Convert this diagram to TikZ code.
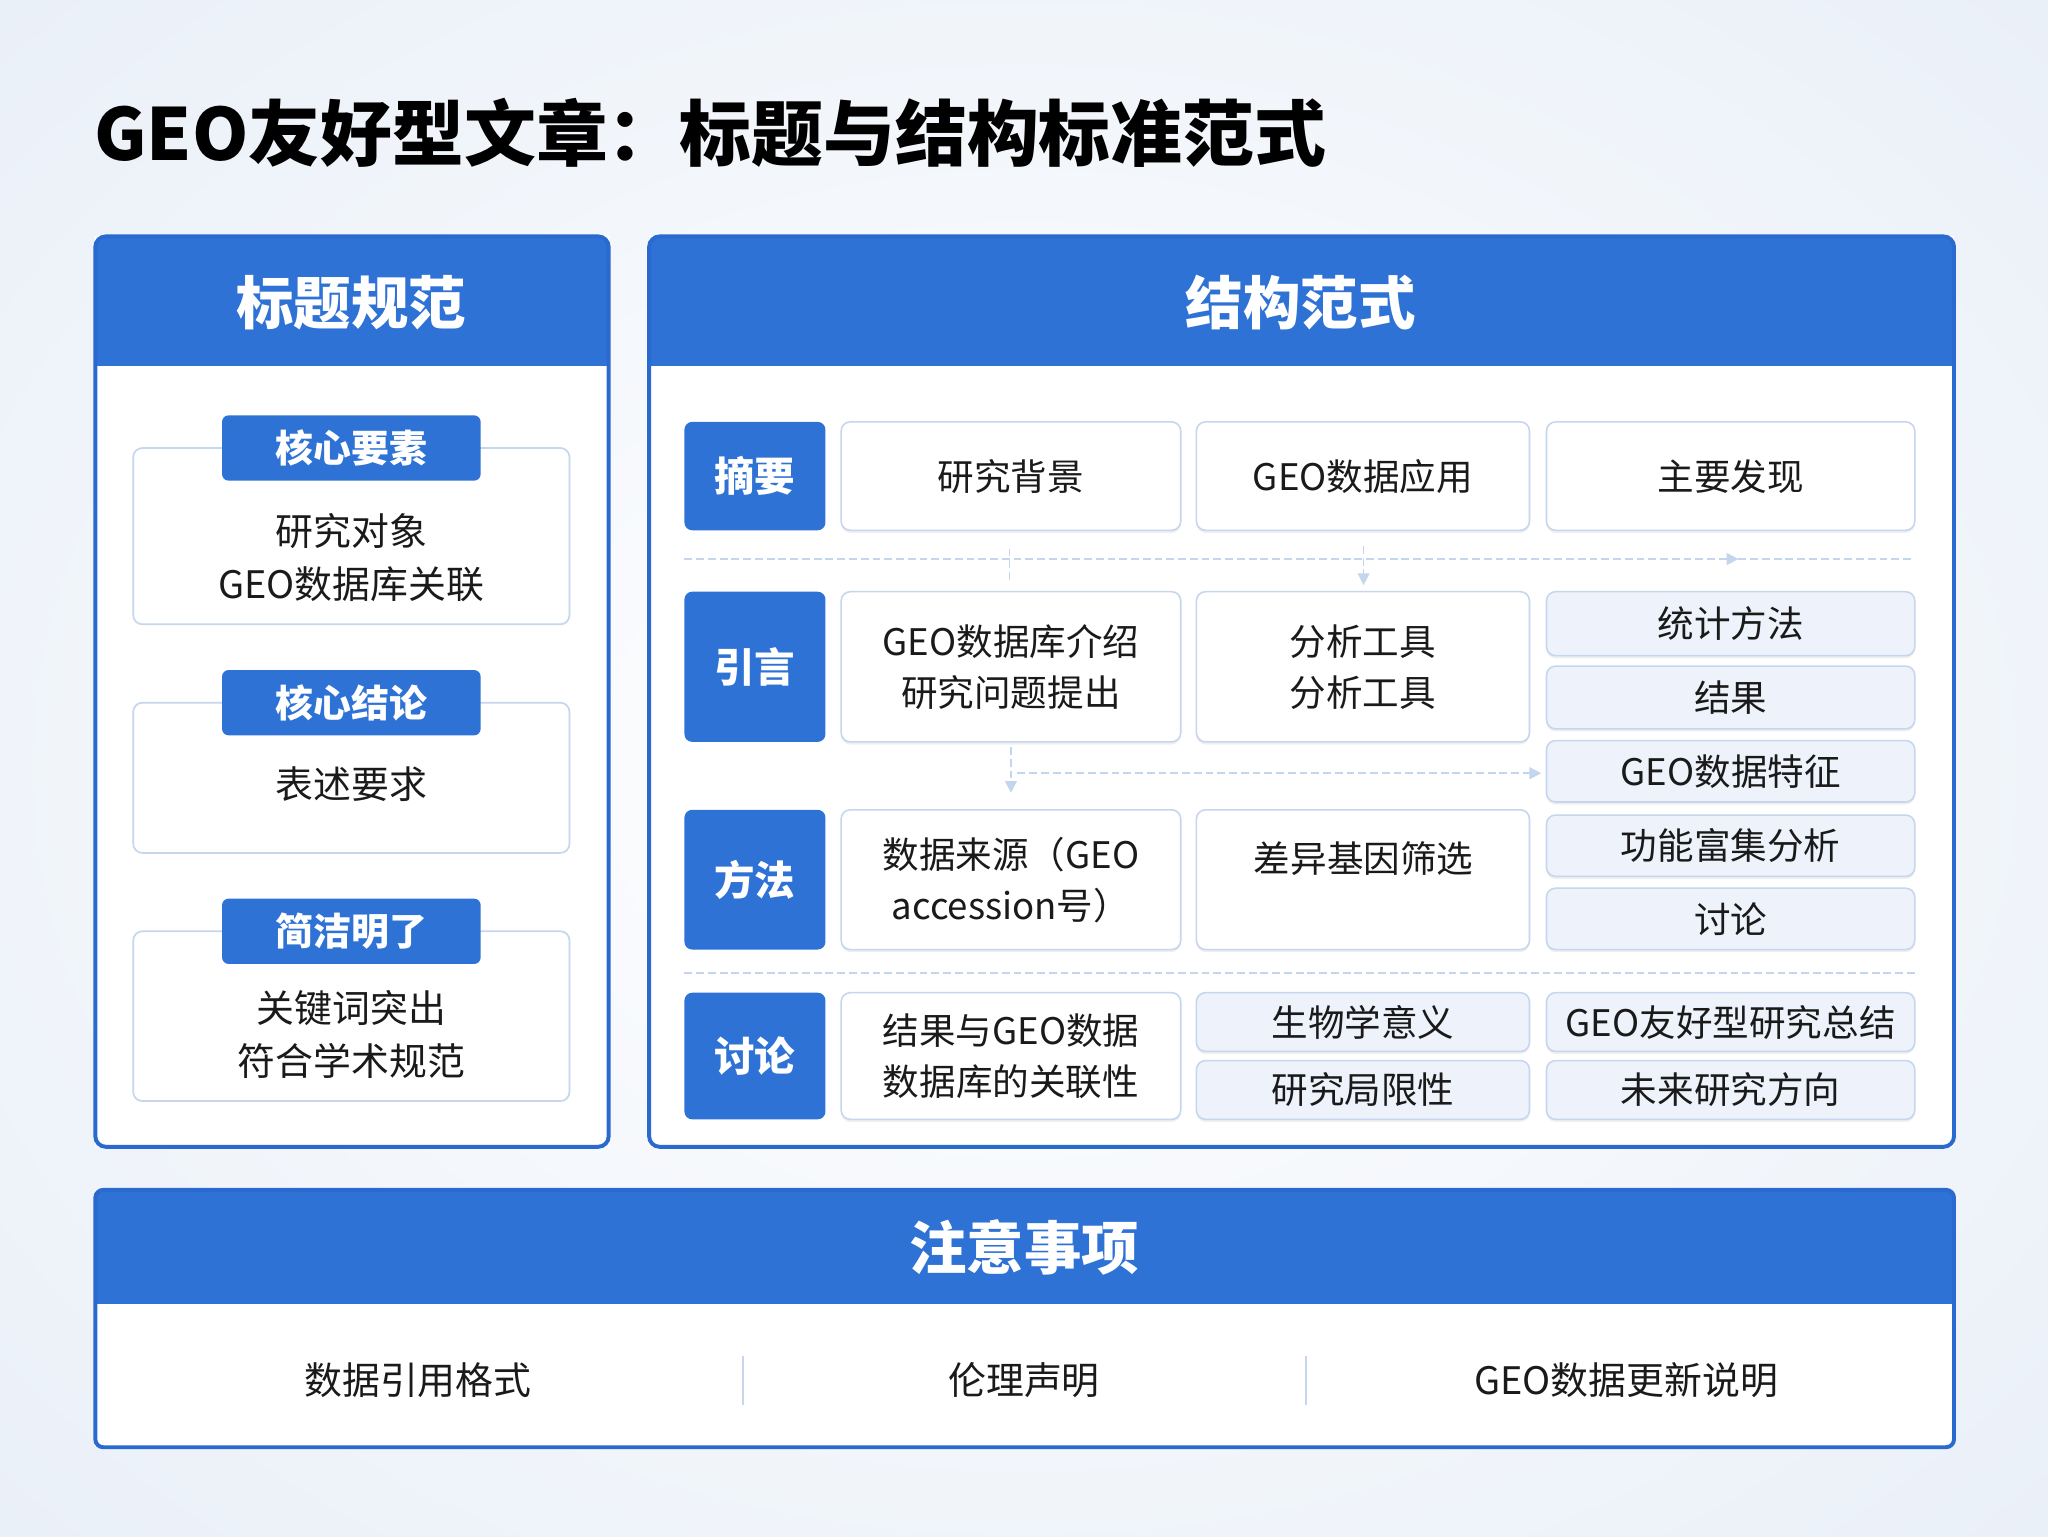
\documentclass[tikz,border=0pt]{standalone}
\usepackage{fontspec}
\setmainfont{Noto Sans CJK SC}
\usetikzlibrary{arrows.meta,shadows}
\definecolor{bgc}{HTML}{EAF0F8}
\definecolor{hblue}{HTML}{2E72D6}
\definecolor{bblue}{HTML}{2A69CE}
\definecolor{lblue}{HTML}{C5D6EE}
\definecolor{lfill}{HTML}{EEF3FB}
\definecolor{sepc}{HTML}{C4D5EE}
\definecolor{txt}{HTML}{1A1A1A}
\newcommand\fs[2]{\fontsize{#1}{#2}\selectfont}
\newcommand\bx[7]{\node[#1, minimum width={(#4-#2)*1pt}, minimum height={(#5-#3)*1pt}] (#6) at ({(#2+#4)/2},{(#3+#5)/2}) {#7};}
\tikzset{
  panelhead/.style={white, font=\fs{44}{50}\bfseries},
  tabbox/.style={fill=hblue, rounded corners=5pt, inner sep=0pt, text=white, font=\fs{29}{34}\bfseries},
  cardbox/.style={draw=lblue, line width=1.3pt, fill=white, rounded corners=7pt, inner sep=0pt},
  cardtext/.style={text=txt, align=center, font=\fs{29}{40}},
  rowlab/.style={fill=hblue, rounded corners=6pt, inner sep=0pt, text=white, font=\fs{31}{36}\bfseries},
  cellw/.style={draw=lblue, line width=1.2pt, fill=white, rounded corners=7pt, inner sep=0pt, text=txt, align=center, font=\fs{28}{39}, drop shadow={opacity=0.12, shadow xshift=0pt, shadow yshift=-2pt}},
  celll/.style={cellw, fill=lfill},
  sepline/.style={draw=sepc, line width=1.5pt, dash pattern=on 6pt off 3pt},
  septip/.style={sepline, -{Triangle[length=9pt,width=9pt,fill=sepc]}},
  botitem/.style={text=txt, font=\fs{29}{34}},
}
\begin{document}
\begin{tikzpicture}[x=1pt,y=-1pt]
\useasboundingbox (0,0) rectangle (1568,1176);
\shade[inner color=white, outer color=bgc] (-300,-250) rectangle (1868,1426);
% title
\node[anchor=west, inner sep=0pt, text=black, font=\fs{55}{60}\bfseries] (title) at (72,102) {GEO友好型文章：标题与结构标准范式};

% ---------- left panel ----------
\fill[white] (73,181) rectangle (466,878);
\fill[hblue, rounded corners=8pt] (73,181) rectangle (466,280);
\fill[hblue] (73,250) rectangle (466,280);
\draw[bblue, line width=3pt, rounded corners=8pt] (73,181) rectangle (466,878);
\node[panelhead] (lhead) at (269,232) {标题规范};

\bx{cardbox}{102}{343}{436}{478}{card1}{}
\bx{tabbox}{170}{318}{368}{368}{tab1}{核心要素}
\node[cardtext] (t1) at (269,427) {研究对象\\GEO数据库关联};

\bx{cardbox}{102}{538}{436}{653}{card2}{}
\bx{tabbox}{170}{513}{368}{563}{tab2}{核心结论}
\node[cardtext] (t2) at (269,600) {表述要求};

\bx{cardbox}{102}{713}{436}{843}{card3}{}
\bx{tabbox}{170}{688}{368}{738}{tab3}{简洁明了}
\node[cardtext] (t3) at (269,792) {关键词突出\\符合学术规范};

% ---------- right panel ----------
\fill[white] (497,181) rectangle (1496,878);
\fill[hblue, rounded corners=8pt] (497,181) rectangle (1496,280);
\fill[hblue] (497,250) rectangle (1496,280);
\draw[bblue, line width=3pt, rounded corners=8pt] (497,181) rectangle (1496,878);
\node[panelhead] (rhead) at (996,232) {结构范式};

% separators and arrows
\coordinate (s1a) at (524,428); \coordinate (s1m) at (1331,428); \coordinate (s1b) at (1466,428);
\draw[septip] (s1a) -- (s1m);
\draw[sepline] (s1m) -- (s1b);
\coordinate (v1a) at (773,420); \coordinate (v1b) at (773,447);
\draw[sepline, line width=1pt] (v1a) -- (v1b);
\coordinate (v2a) at (1044,418); \coordinate (v2b) at (1044,448);
\draw[septip, line width=1pt] (v2a) -- (v2b);
\coordinate (v3a) at (774,572); \coordinate (v3b) at (774,607);
\draw[septip, line width=1pt] (v3a) -- (v3b);
\coordinate (h2a) at (779,592); \coordinate (h2b) at (1180,592);
\draw[septip] (h2a) -- (h2b);
\coordinate (s3a) at (524,745); \coordinate (s3b) at (1466,745);
\draw[sepline] (s3a) -- (s3b);

% row 1
\bx{rowlab}{524}{323}{632}{406}{r1}{摘要}
\bx{cellw}{644}{323}{904}{406}{c11}{研究背景}
\bx{cellw}{916}{323}{1171}{406}{c12}{GEO数据应用}
\bx{cellw}{1184}{323}{1466}{406}{c13}{主要发现}

% row 2
\bx{rowlab}{524}{453}{632}{568}{r2}{引言}
\bx{cellw}{644}{453}{904}{568}{c21}{GEO数据库介绍\\研究问题提出}
\bx{cellw}{916}{453}{1171}{568}{c22}{分析工具\\分析工具}
\bx{celll}{1184}{453}{1466}{502}{c23a}{统计方法}
\bx{celll}{1184}{510}{1466}{558}{c23b}{结果}
\bx{celll}{1184}{567}{1466}{614}{c23c}{GEO数据特征}

% row 3
\bx{rowlab}{524}{620}{632}{727}{r3}{方法}
\bx{cellw}{644}{620}{904}{727}{c31}{数据来源（GEO\\accession号）}
\bx{cellw}{916}{620}{1171}{727}{c32}{}
\node[text=txt, font=\fs{28}{39}] (c32t) at (1044,657) {差异基因筛选};
\bx{celll}{1184}{624}{1466}{671}{c33a}{功能富集分析}
\bx{celll}{1184}{680}{1466}{727}{c33b}{讨论}

% row 4
\bx{rowlab}{524}{760}{632}{857}{r4}{讨论}
\bx{cellw}{644}{760}{904}{857}{c41}{结果与GEO数据\\数据库的关联性}
\bx{celll}{916}{760}{1171}{805}{c42a}{生物学意义}
\bx{celll}{916}{812}{1171}{857}{c42b}{研究局限性}
\bx{celll}{1184}{760}{1466}{805}{c43a}{GEO友好型研究总结}
\bx{celll}{1184}{812}{1466}{857}{c43b}{未来研究方向}

% ---------- bottom panel ----------
\fill[white] (73,911) rectangle (1496,1108);
\fill[hblue, rounded corners=8pt] (73,911) rectangle (1496,998);
\fill[hblue] (73,970) rectangle (1496,998);
\draw[bblue, line width=3pt, rounded corners=6pt] (73,911) rectangle (1496,1108);
\node[panelhead] (bhead) at (784,955) {注意事项};
\node[botitem] (b1) at (320,1057) {数据引用格式};
\node[botitem] (b2) at (784,1057) {伦理声明};
\node[botitem] (b3) at (1245,1057) {GEO数据更新说明};
\coordinate (d1a) at (569,1038); \coordinate (d1b) at (569,1076);
\coordinate (d2a) at (1000,1038); \coordinate (d2b) at (1000,1076);
\draw[lblue, line width=1.5pt] (d1a) -- (d1b);
\draw[lblue, line width=1.5pt] (d2a) -- (d2b);
\end{tikzpicture}
\end{document}
